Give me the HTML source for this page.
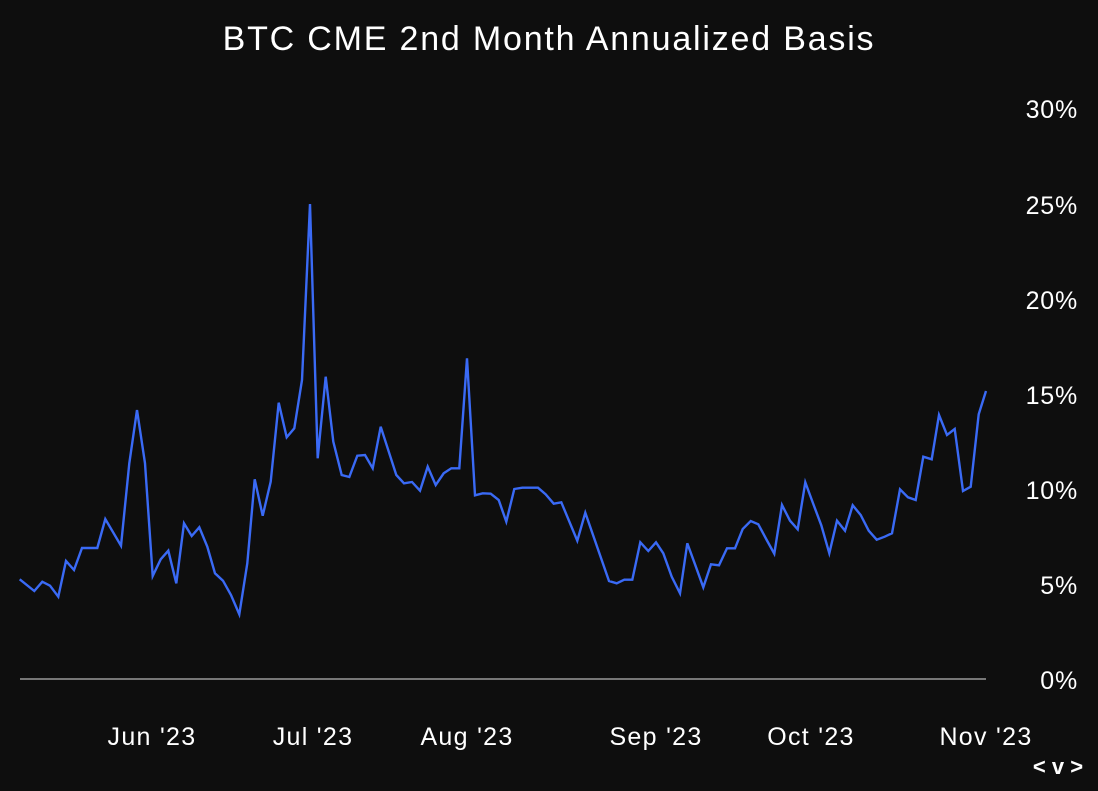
<!DOCTYPE html>
<html><head><style>
body{margin:0;background:#0e0e0e;width:1098px;height:786px;overflow:hidden;font-family:"Liberation Sans",sans-serif;}
</style></head><body>
<svg width="1098" height="786" xmlns="http://www.w3.org/2000/svg">
<rect width="1098" height="786" fill="#0e0e0e"/>
<text x="549" y="50" fill="#fff" font-size="34" letter-spacing="1.8" text-anchor="middle" font-family="Liberation Sans, sans-serif">BTC CME 2nd Month Annualized Basis</text>
<g fill="#fff" font-size="25" letter-spacing="0.8" text-anchor="end" font-family="Liberation Sans, sans-serif">
<text x="1078" y="118">30%</text>
<text x="1078" y="214">25%</text>
<text x="1078" y="309">20%</text>
<text x="1078" y="404">15%</text>
<text x="1078" y="499">10%</text>
<text x="1078" y="594">5%</text>
<text x="1078" y="689">0%</text>
</g>
<g fill="#fff" font-size="25" letter-spacing="1.3" text-anchor="middle" font-family="Liberation Sans, sans-serif">
<text x="152" y="745">Jun '23</text>
<text x="313" y="745">Jul '23</text>
<text x="467" y="745">Aug '23</text>
<text x="656" y="745">Sep '23</text>
<text x="811" y="745">Oct '23</text>
<text x="986" y="745">Nov '23</text>
<text x="1058" y="774" font-weight="bold" font-size="22" letter-spacing="0">&lt; v &gt;</text>
</g>
<line x1="20" y1="679" x2="986" y2="679" stroke="#777" stroke-width="2"/>
<polyline fill="none" stroke="#3a6af5" stroke-width="2.4" stroke-linejoin="miter" points="19.7,579.3 34.3,591 42.3,581.7 50,585.7 58.3,596.7 66,561 74,570 82,548 97.3,548 105.3,519 121,545.7 129.3,463.3 137,410 145,463.3 152.7,576 160.7,559.3 168.3,550.7 176.3,583.3 184,523.3 191.7,536 199.3,527.3 207.3,546.7 215,573.3 223,580.7 231,595 239.3,614.3 247.3,563.3 254.7,479.3 262.7,515.7 270.7,481.7 278.7,402.7 286.7,437.3 294.3,428.3 302,380 310,204 317.7,458.3 325.7,376.7 333.3,441.7 341.7,475 349.3,477 357.3,455.7 365,455 372.7,468.3 380.7,426.7 396.3,475 404,483.3 412,482 420,490.7 427.7,466.7 435.7,485 443.7,473.3 451.3,468.3 459.3,468.3 467,358.3 475,495.3 482.7,493.3 490.7,493.7 498.7,500 506.3,521.7 514.3,489 522.3,487.7 538,487.7 545.7,494.3 553.7,503.7 561.3,502.3 577.3,540.7 585.3,512.7 609,581 616.7,583.3 624.3,579.7 632.3,579.7 640.3,542.3 648.3,551 656,542.3 663.3,553.3 671.7,576.7 680,593.3 687.3,543.3 695,564.3 703.3,587.3 711,564.3 719,565.3 727,548.3 735,548.3 742.7,529 750.7,521 758.3,524.3 766.7,540 774.3,553.7 782,505 790,520.7 797.7,529.3 805.3,482.3 813.3,504 821.3,525.3 829.3,553.3 837,520.7 845,530.7 852.7,505.3 860.7,515 868.7,530.7 876.7,539.7 884.7,536.7 892,533.3 900,489.3 908,497.3 915.7,500 923.3,456.7 931.7,459.3 939,415 947,435 954.7,429 963,491 970.7,486.7 978.7,414.3 986,391"/>
</svg>
</body></html>
